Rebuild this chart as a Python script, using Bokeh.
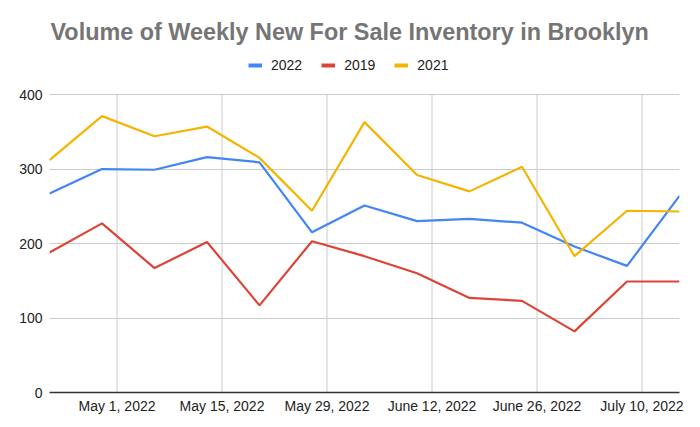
import numpy as np
import pandas as pd
from bokeh.plotting import figure
from bokeh.models import FixedTicker, Legend, LegendItem, Range1d
from bokeh.embed import file_html
from bokeh.resources import INLINE

# ---- data ----
weeks = ["2022-04-22", "2022-04-29", "2022-05-06", "2022-05-13", "2022-05-20",
         "2022-05-27", "2022-06-03", "2022-06-10", "2022-06-17", "2022-06-24",
         "2022-07-01", "2022-07-08", "2022-07-15"]
series_2022 = [267, 300, 299, 316, 309, 215, 251, 230, 233, 228, 196, 170, 264]
series_2019 = [188, 227, 167, 202, 117, 203, 183, 160, 127, 123, 82, 149, 149]
series_2021 = [312, 371, 344, 357, 315, 244, 363, 292, 270, 303, 183, 244, 243]
series_names = ["2022", "2019", "2021"]
tick_dates = ["2022-05-01", "2022-05-15", "2022-05-29", "2022-06-12", "2022-06-26", "2022-07-10"]
tick_labels = ["May 1, 2022", "May 15, 2022", "May 29, 2022", "June 12, 2022",
               "June 26, 2022", "July 10, 2022"]
y_ticks = [0, 100, 200, 300, 400]
title_text = "Volume of Weekly New For Sale Inventory in Brooklyn"

colors = ["#4285F4", "#DB4437", "#F4B400"]
FONT = "Liberation Sans"

x = pd.to_datetime(weeks)
tick_x = pd.to_datetime(tick_dates)
tick_ms = [int(pd.Timestamp(d).value // 10**6) for d in tick_dates]
y_max = y_ticks[-1]
# frame extends above the top gridline to leave room for the legend
y_top = y_max * (391.7 - 50) / (391.7 - 94)

p = figure(width=700, height=427, x_axis_type="datetime",
           x_range=Range1d(x[0], x[-1]), y_range=Range1d(0, y_top),
           output_backend="svg", toolbar_location=None, title=title_text,
           min_border_left=49, min_border_right=21, min_border_top=50,
           min_border_bottom=35)
p.outline_line_color = None
p.background_fill_color = "white"

p.title.align = "left"
p.title.offset = 1
p.title.standoff = 12
p.title.text_font = FONT
p.title.text_font_size = "23.4px"
p.title.text_font_style = "bold"
p.title.text_color = "#757575"

# axes
p.xaxis.ticker = FixedTicker(ticks=tick_ms)
p.xaxis.major_label_overrides = dict(zip(tick_ms, tick_labels))
p.yaxis.ticker = FixedTicker(ticks=y_ticks)
for ax in (p.xaxis, p.yaxis):
    ax.major_tick_line_color = None
    ax.minor_tick_line_color = None
    ax.major_tick_out = 0
    ax.major_tick_in = 0
    ax.major_label_text_font = FONT
    ax.major_label_text_font_size = "14px"
    ax.major_label_text_color = "#222222"
p.yaxis.axis_line_color = None
p.yaxis.major_label_standoff = 7
p.xaxis.axis_line_color = "#333333"
p.xaxis.axis_line_width = 1.5
p.xaxis.major_label_standoff = 5

p.xgrid.visible = False
p.ygrid.grid_line_color = "#cccccc"
p.ygrid.ticker = FixedTicker(ticks=y_ticks)
# vertical grid lines only up to the top tick
p.segment(x0=tick_x, y0=[0] * len(tick_x), x1=tick_x, y1=[y_max] * len(tick_x),
          line_color="#cccccc", line_width=1)

items = []
for name, vals, c in zip(series_names, [series_2022, series_2019, series_2021], colors):
    p.line(x, vals, line_color=c, line_width=2.2)
    # single-point thick line: invisible on the plot, gives a thick legend swatch
    proxy = p.line(x=x[:1], y=vals[:1], line_color=c, line_width=4)
    items.append(LegendItem(label=name, renderers=[proxy]))

legend = Legend(items=items, orientation="horizontal", location=(199, 318.7),
                glyph_width=14, glyph_height=16, label_height=16,
                label_standoff=9, spacing=19, padding=0, margin=0,
                border_line_color=None, background_fill_alpha=0,
                label_text_font=FONT, label_text_font_size="14px",
                label_text_color="#222222")
p.add_layout(legend, "center")

open("out.html", "w").write(file_html(p, INLINE))
